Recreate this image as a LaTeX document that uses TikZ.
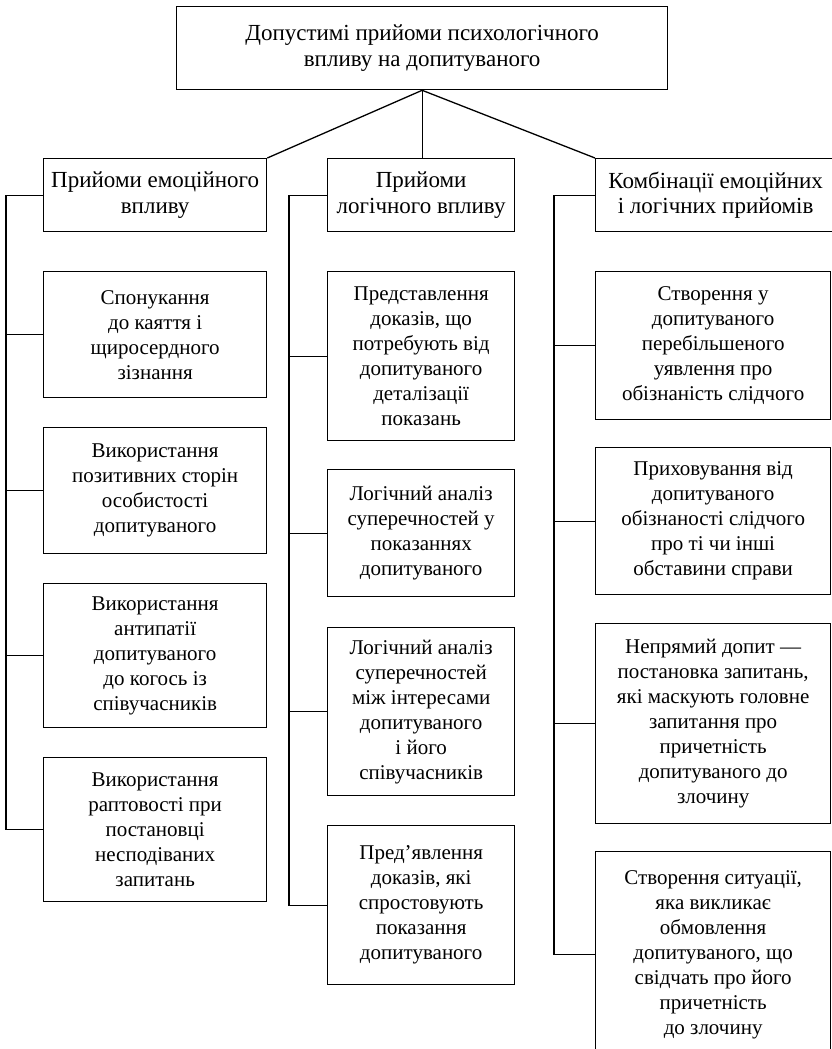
\documentclass[tikz,border=0pt]{standalone}
\usepackage{fontspec}
\setmainfont{Liberation Serif}
\tikzset{
  box/.style={draw, line width=1.3pt, align=center, inner sep=0pt, anchor=north west,
    font=\fontsize{21}{25}\selectfont},
  headbox/.style={box, font=\fontsize{23}{25.5}\selectfont},
  link/.style={line width=1.3pt}
}
\begin{document}
\begin{tikzpicture}[x=1pt,y=-1pt]
    \useasboundingbox (0,0) rectangle (831,1049);
    \node[headbox, minimum width=491, minimum height=83] (top) at (176,6)
        {Допустимі прийоми психологічного\\впливу на допитуваного};
    \node[headbox, minimum width=223, minimum height=73] (emo) at (43,158)
        {Прийоми емоційного\\впливу};
    \node[headbox, minimum width=187, minimum height=73] (log) at (327,158)
        {Прийоми\\логічного впливу};
    \node[headbox, minimum width=240, minimum height=73] (comb) at (595,158)
        {Комбінації емоційних\\і логічних прийомів};
    \draw[link] (top.south) -- (emo.north east);
    \draw[link] (top.south) -- (top.south |- log.north);
    \draw[link] (top.south) -- (comb.north west);

    % emotional
    \node[box, minimum width=223, minimum height=126] (e1) at (43,271)
        {Спонукання\\до каяття і\\щиросердного\\зізнання};
    \node[box, minimum width=223, minimum height=126] (e2) at (43,427)
        {Використання\\позитивних сторін\\особистості\\допитуваного};
    \node[box, minimum width=223, minimum height=144] (e3) at (43,583)
        {Використання\\антипатії\\допитуваного\\до когось із\\співучасників};
    \node[box, minimum width=223, minimum height=144] (e4) at (43,757)
        {Використання\\раптовості при\\постановці\\несподіваних\\запитань};
    \coordinate (et) at (6,197);
    \draw[link] (emo.west) -- (emo.west -| et) |- (e4.west);
    \foreach \n in {e1,e2,e3}
        \draw[link] (\n.west) -- (\n.west -| et);

    % logical
    \node[box, minimum width=187, minimum height=169] (l1) at (327,271)
        {Представлення\\доказів, що\\потребують від\\допитуваного\\деталізації\\показань};
    \node[box, minimum width=187, minimum height=127] (l2) at (327,469)
        {Логічний аналіз\\суперечностей у\\показаннях\\допитуваного};
    \node[box, minimum width=187, minimum height=168] (l3) at (327,627)
        {Логічний аналіз\\суперечностей\\між інтересами\\допитуваного\\і його\\співучасників};
    \node[box, minimum width=187, minimum height=159] (l4) at (327,825)
        {Пред’явлення\\доказів, які\\спростовують\\показання\\допитуваного};
    \coordinate (lt) at (289,197);
    \draw[link] (log.west) -- (log.west -| lt) |- (l4.west);
    \foreach \n in {l1,l2,l3}
        \draw[link] (\n.west) -- (\n.west -| lt);

    % combined
    \node[box, minimum width=235, minimum height=148] (r1) at (595,271)
        {Створення у\\допитуваного\\перебільшеного\\уявлення про\\обізнаність слідчого};
    \node[box, minimum width=235, minimum height=147] (r2) at (595,447)
        {Приховування від\\допитуваного\\обізнаності слідчого\\про ті чи інші\\обставини справи};
    \node[box, minimum width=235, minimum height=200] (r3) at (595,623)
        {Непрямий допит —\\постановка запитань,\\які маскують головне\\запитання про\\причетність\\допитуваного до\\злочину};
    \node[box, minimum width=235, minimum height=206] (r4) at (595,851)
        {Створення ситуації,\\яка викликає\\обмовлення\\допитуваного, що\\свідчать про його\\причетність\\до злочину};
    \coordinate (rt) at (554,197);
    \draw[link] (comb.west) -- (comb.west -| rt) |- (r4.west);
    \foreach \n in {r1,r2,r3}
        \draw[link] (\n.west) -- (\n.west -| rt);
\end{tikzpicture}
\end{document}
